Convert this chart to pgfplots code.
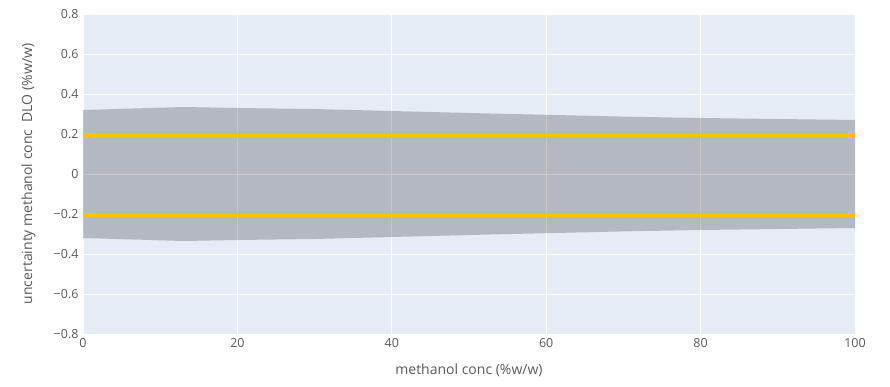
\documentclass[border=0pt]{standalone}
\usepackage{fontspec}
\setmainfont{Open Sans}
\usepackage{pgfplots}
\pgfplotsset{compat=1.18}
\usepgfplotslibrary{fillbetween}
\definecolor{plotbg}{HTML}{E5ECF6}
\definecolor{bandgray}{RGB}{70,70,72}
\definecolor{goldline}{HTML}{FFC000}
\definecolor{txt}{HTML}{5A5A5A}
\begin{document}
\begin{tikzpicture}
\begin{axis}[
  at={(0,0)}, anchor=south west,
  scale only axis, width=772bp, height=320bp,
  xmin=0, xmax=100, ymin=-0.8, ymax=0.8,
  axis background/.style={fill=plotbg},
  axis line style={draw=none},
  major tick length=0pt,
  grid=major, major grid style={white, line width=0.8pt},
  xtick={0,20,40,60,80,100},
  ytick={-0.8,-0.6,-0.4,-0.2,0,0.2,0.4,0.6,0.8},
  yticklabels={−0.8,−0.6,−0.4,−0.2,0,0.2,0.4,0.6,0.8},
  /pgf/number format/assume math mode=true,
  tick label style={font=\fontsize{12.5bp}{14bp}\selectfont, text=txt},
  xticklabel style={yshift=-1bp},
  yticklabel style={xshift=-1bp},
  xlabel={methanol conc (\%w/w)},
  ylabel={uncertainty methanol conc\ \ DLO (\%w/w)},
  label style={font=\fontsize{14bp}{16bp}\selectfont, text=txt},
  xlabel style={at={(axis description cs:0.5,0)}, anchor=north, yshift=-26bp},
  ylabel style={at={(axis description cs:0,0.5)}, anchor=south, xshift=0bp, yshift=44bp},
  clip=true,
]
\addplot[name path=upper, draw=none, forget plot] coordinates {
 (0,0.32) (13,0.335) (20,0.33) (30,0.325) (40,0.315) (50,0.305) (60,0.296) (70,0.287) (80,0.28) (90,0.275) (100,0.27)};
\addplot[name path=lower, draw=none, forget plot] coordinates {
 (0,-0.32) (13,-0.335) (20,-0.33) (30,-0.325) (40,-0.315) (50,-0.305) (60,-0.296) (70,-0.287) (80,-0.28) (90,-0.275) (100,-0.27)};
\addplot[fill=bandgray, fill opacity=0.3, draw=none] fill between[of=upper and lower];
\addplot[goldline, line width=4.5bp] coordinates {(0,0.192) (100,0.192)};
\addplot[goldline, line width=4.5bp] coordinates {(0,-0.205) (100,-0.205)};
\end{axis}
\path[use as bounding box] (-83bp,-53bp) rectangle (807bp,334bp);
\end{tikzpicture}
\end{document}
